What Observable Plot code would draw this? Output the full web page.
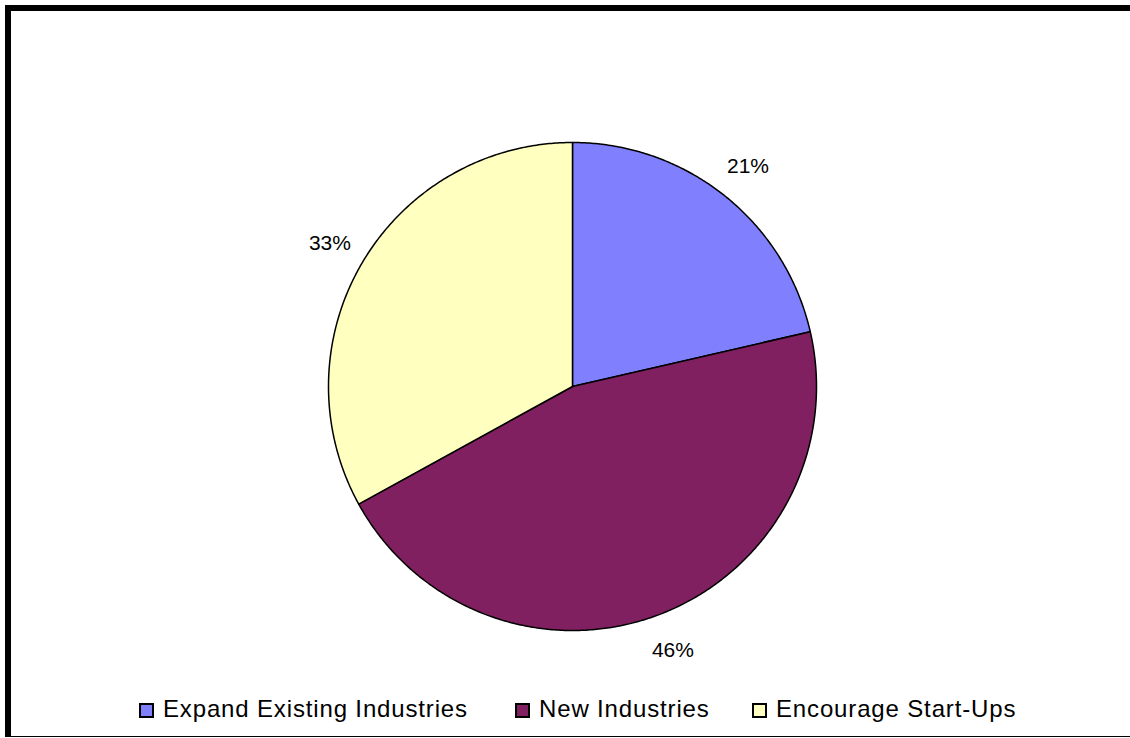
<!DOCTYPE html>
<html>
<head>
<meta charset="utf-8">
<script src="https://cdn.jsdelivr.net/npm/d3@7"></script>
<script src="https://cdn.jsdelivr.net/npm/@observablehq/plot@0.6"></script>
<style>
  html, body { margin: 0; padding: 0; background: #fff; overflow: hidden; }
  #wrap { position: relative; width: 1130px; height: 738px; overflow: hidden; font-family: "Liberation Sans", Arial, sans-serif; }
  #frame { position: absolute; left: 5px; top: 5px; width: 1140px; height: 725px;
           border-top: 6px solid #000; border-left: 6px solid #000; border-bottom: 1px solid #000; }
  #chart { position: absolute; left: 0; top: 0; }
  #legend { position: absolute; left: 0; top: 696px; width: 1130px; height: 26px;
            font-size: 24px; letter-spacing: 0.85px; color: #000; white-space: nowrap; }
  .item { position: absolute; top: 0; height: 26px; display: flex; align-items: center; }
  .sw { width: 11px; height: 11px; border: 2px solid #000; margin-right: 9px; margin-top: 3px; }
</style>
</head>
<body>
<div id="wrap">
  <div id="frame"></div>
  <div id="chart"></div>
  <div id="legend"></div>
</div>
<script>
const categories = ["Expand Existing Industries", "New Industries", "Encourage Start-Ups"];
const values = [21.4, 45.6, 33.0];
const labels = ["21%", "46%", "33%"];
const colors = ["#8080FF", "#802060", "#FFFFC0"];

const arcs = d3.pie().sort(null).startAngle(0).endAngle(2 * Math.PI)(values);

const features = arcs.map((a, i) => {
  const ring = [[0, 0]];
  const n = Math.max(2, Math.ceil((a.endAngle - a.startAngle) / (Math.PI / 360)));
  for (let k = 0; k <= n; k++) {
    const t = a.startAngle + (a.endAngle - a.startAngle) * k / n;
    ring.push([Math.sin(t), Math.cos(t)]);
  }
  ring.push([0, 0]);
  return { type: "Feature", properties: { name: categories[i] }, geometry: { type: "Polygon", coordinates: [ring] } };
});

const labelData = arcs.map((a, i) => {
  const m = (a.startAngle + a.endAngle) / 2;
  return { lx: 1.155 * Math.sin(m), ly: 1.155 * Math.cos(m), label: labels[i] };
});

const chart = Plot.plot({
  width: 1130,
  height: 690,
  marginLeft: 328,
  marginRight: 314,
  marginTop: 142,
  marginBottom: 60,
  style: { fontFamily: "Liberation Sans, Arial, sans-serif", background: "transparent", overflow: "visible" },
  projection: { type: "reflect-y", clip: false, domain: { type: "MultiPoint", coordinates: [[-1, -1], [1, 1]] } },
  color: { domain: categories, range: colors },
  marks: [
    Plot.geo(features, { fill: d => d.properties.name, stroke: "#000", strokeWidth: 1.5 }),
    Plot.text(labelData, { x: "lx", y: "ly", text: "label", fontSize: 21, fill: "#000", textAnchor: "middle", lineAnchor: "middle", clip: false })
  ]
});
document.getElementById("chart").appendChild(chart);

const legend = document.getElementById("legend");
const legendLeft = [139, 515, 752];
categories.forEach((c, i) => {
  const it = document.createElement("div");
  it.className = "item";
  it.style.left = legendLeft[i] + "px";
  const sw = document.createElement("div");
  sw.className = "sw";
  sw.style.background = colors[i];
  const tx = document.createElement("span");
  tx.textContent = c;
  it.appendChild(sw);
  it.appendChild(tx);
  legend.appendChild(it);
});
</script>
</body>
</html>
